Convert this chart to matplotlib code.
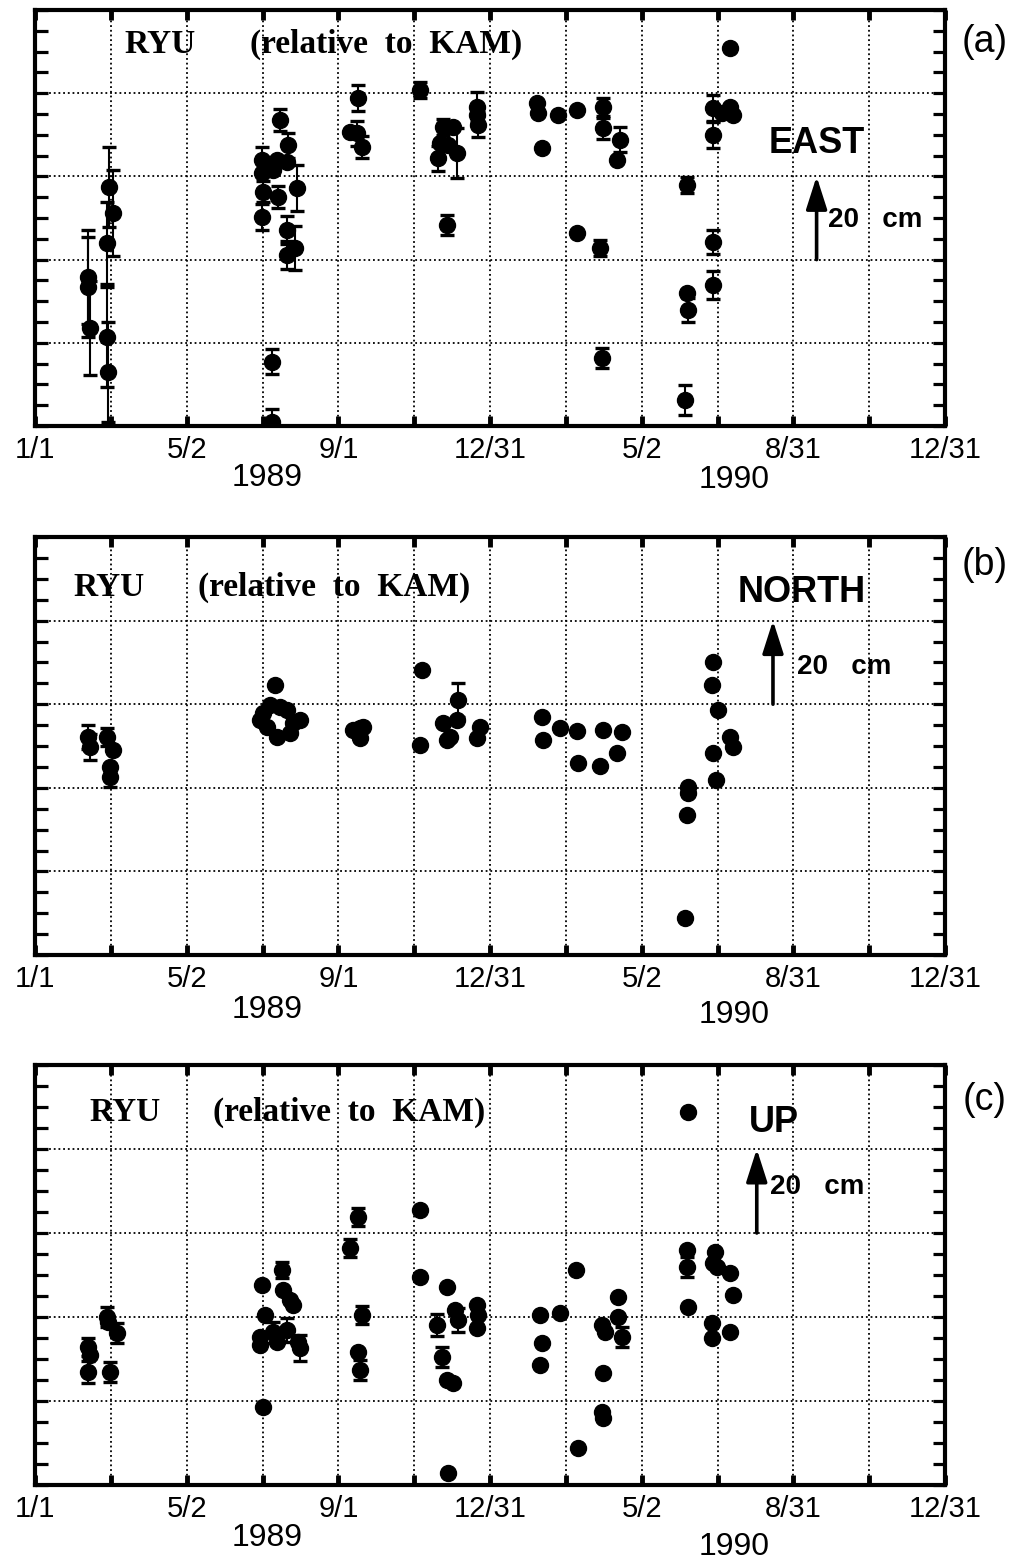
import numpy as np
import matplotlib.pyplot as plt
from matplotlib.ticker import MultipleLocator, FixedLocator

# x = days since 1989-01-01, y = displacement in cm (arbitrary origin), err = 1 sigma in cm
east_day = [42.5, 42.5, 44.1, 57.8, 57.8, 58.6, 59.4, 62.6,
            182.1, 182.1, 182.9, 182.1, 196.5, 203.0, 202.2, 194.9, 210.2, 202.2, 208.6, 202.2, 194.1, 190.9, 190.1, 190.1,
            259.1, 252.7, 258.3, 262.3, 308.8,
            327.3, 324.9, 323.3, 335.3, 338.5, 330.5, 331.3,
            354.6, 355.4, 354.6,
            402.7, 403.5, 406.7, 419.5, 434.8, 434.8, 453.2, 455.7, 455.7, 469.3, 466.9, 454.9,
            523.0, 523.0, 523.8, 521.4,
            543.9, 543.9, 543.9, 543.9, 557.5, 557.5, 559.9, 551.1]
east_cm = [35.8, 33.4, 23.6, 44.0, 21.4, 13.0, 57.5, 51.2,
           63.9, 60.8, 56.3, 50.2, 73.6, 67.5, 63.5, 55.0, 57.2, 47.1, 42.8, 41.1, 63.9, 61.5, 15.4, 1.0,
           78.8, 70.7, 70.4, 67.1, 80.8,
           71.9, 68.0, 64.4, 71.9, 65.6, 48.3, 67.5,
           76.7, 72.4, 74.8,
           77.6, 75.2, 66.8, 74.8, 76.0, 46.4, 42.8, 76.7, 71.6, 68.8, 63.9, 16.3,
           57.9, 32.0, 27.9, 6.3,
           76.4, 70.0, 44.2, 33.9, 90.9, 76.7, 74.8, 75.2]
east_err = [11.3, 12.0, 11.3, 9.9, 12.0, 12.0, 9.6, 10.3,
            3.1, 0, 2.5, 3.1, 2.6, 3.0, 0, 2.6, 5.5, 3.4, 5.3, 3.4, 0, 0, 3.0, 3.0,
            3.1, 0, 3.0, 2.6, 2.0,
            2.0, 0, 3.0, 0, 6.0, 2.5, 0,
            3.6, 3.0, 0,
            0, 0, 0, 0, 0, 0, 2.0, 2.2, 2.5, 3.0, 0, 2.4,
            2.0, 0, 2.9, 3.6,
            3.1, 3.1, 2.9, 3.4, 0, 0, 0, 0]

north_day = [42.5, 44.1, 57.8, 62.6, 60.2, 60.2,
             192.5, 182.9, 180.5, 186.1, 194.1, 202.2, 207.0, 212.6, 204.6, 196.5, 188.5,
             255.1, 260.7, 260.7, 263.1, 310.4, 308.8,
             327.3, 332.9, 330.5, 338.5, 339.3, 357.0, 354.6,
             406.7, 407.5, 421.2, 434.8, 435.6, 453.2, 455.7, 470.9, 466.9,
             523.8, 523.8, 523.0, 521.4,
             543.9, 543.1, 547.9, 543.9, 546.3, 557.5, 559.9]
north_cm = [52.2, 49.8, 52.2, 49.0, 45.0, 42.6,
            64.6, 57.9, 56.2, 54.5, 52.2, 58.6, 55.5, 56.2, 53.1, 59.3, 59.8,
            53.8, 54.3, 51.9, 54.5, 68.2, 50.2,
            55.5, 52.2, 51.4, 56.2, 61.0, 54.5, 51.9,
            56.9, 51.4, 54.3, 53.6, 45.9, 45.2, 53.8, 53.3, 48.3,
            40.2, 38.8, 33.5, 8.9,
            70.1, 64.6, 58.6, 48.3, 41.9, 52.2, 49.8]
north_err = [2.9, 3.1, 2.2, 0, 0, 2.4,
             0, 0, 0, 0, 0, 0, 0, 0, 0, 0, 0,
             0, 0, 0, 0, 0, 0,
             0, 0, 0, 0, 4.1, 0, 0,
             0, 0, 0, 0, 0, 0, 0, 0, 0,
             0, 0, 0, 0,
             0, 0, 0, 0, 0, 0, 0]

up_day = [42.5, 44.1, 42.5, 57.8, 58.6, 65.8, 60.2,
          182.1, 184.5, 180.5, 180.5, 190.9, 194.1, 198.1, 198.9, 204.6, 207.0, 202.2, 211.0, 212.6, 182.9,
          252.7, 259.1, 262.3, 259.1, 260.7, 308.8, 308.8,
          330.5, 322.5, 326.5, 330.5, 335.3, 331.3, 336.9, 339.3,
          354.6, 355.4, 354.6,
          405.1, 406.7, 405.1, 421.2, 434.0, 435.6,
          454.9, 457.3, 455.7, 454.9, 455.7, 467.7, 467.7, 470.9,
          523.8, 523.0, 523.0, 523.8,
          545.5, 543.9, 547.1, 543.1, 543.1, 557.5, 559.9, 557.5]
up_cm = [32.9, 31.0, 26.9, 40.0, 38.8, 36.2, 26.9,
         47.6, 40.5, 35.2, 33.3, 36.4, 34.0, 51.2, 46.4, 44.0, 42.9, 36.9, 34.0, 32.6, 18.6,
         56.4, 63.8, 40.5, 31.7, 27.4, 65.5, 49.5,
         47.1, 38.1, 30.5, 25.0, 24.3, 2.9, 41.7, 39.3,
         42.9, 40.5, 37.4,
         40.5, 33.8, 28.6, 41.0, 51.2, 8.8,
         38.1, 36.4, 26.7, 17.4, 16.0, 44.8, 40.0, 35.2,
         88.8, 56.0, 51.9, 42.4,
         55.5, 52.9, 51.9, 38.6, 35.0, 50.5, 45.2, 36.4]
up_err = [2.1, 0, 2.6, 2.4, 0, 2.4, 2.4,
          0, 0, 0, 0, 2.5, 0, 2.0, 0, 0, 0, 2.8, 0, 3.0, 0,
          2.2, 2.2, 2.2, 0, 2.4, 0, 0,
          0, 2.6, 2.4, 0, 0, 0, 0, 2.9,
          0, 0, 0,
          0, 0, 0, 0, 0, 0,
          0, 0, 0, 0, 0, 0, 0, 2.4,
          0, 0, 2.4, 0,
          0, 0, 0, 0, 0, 0, 0, 0]

x_tick_labels = ["1/1", "", "5/2", "", "9/1", "", "12/31", "", "5/2", "", "8/31", "", "12/31"]
years = ["1989", "1990"]

plt.rcParams['font.family'] = ['Liberation Sans', 'DejaVu Sans']

fig = plt.figure(figsize=(10.36, 15.62), dpi=100)
W, H = 1036, 1562


def panel(top_px, bottom_px, day, val, err, comp, comp_xy, cm_xy, arrow_day,
          arrow_y, ryu_xy, rel_x, tag, tag_y, year_off):
    ax = fig.add_axes([35 / W, 1 - bottom_px / H, 910 / W, (bottom_px - top_px) / H])
    ax.set_xlim(0, 730)
    ax.set_ylim(0, 100)

    day = np.array(day)
    val = np.array(val)
    err = np.array(err)
    m = err > 0
    ax.errorbar(day[m], val[m], yerr=err[m], fmt='none', ecolor='k',
                elinewidth=1.5, capsize=5, capthick=2.4, zorder=3)
    ax.plot(day, val, 'o', color='k', ms=11.5, zorder=4)

    ax.xaxis.set_major_locator(FixedLocator(np.linspace(0, 730, 13)))
    ax.set_xticklabels(x_tick_labels)
    ax.yaxis.set_major_locator(MultipleLocator(20))
    ax.yaxis.set_minor_locator(MultipleLocator(5))
    ax.set_yticklabels([])
    ax.tick_params(axis='x', which='major', direction='in', top=True, bottom=True,
                   length=7, width=3.5, labelsize=21, pad=7)
    ax.tick_params(axis='y', which='both', direction='in', left=True, right=True,
                   length=9, width=2.3)
    ax.grid(True, which='major', color='k', linestyle=(0, (1, 1.6)), linewidth=1.3)
    for s in ax.spines.values():
        s.set_linewidth(3)

    for yr, xd, off in zip(years, [186, 561], year_off):
        ax.annotate(yr, xy=(xd, 0), xycoords=('data', 'axes fraction'),
                    xytext=(0, -off * 0.72), textcoords='offset points',
                    ha='center', va='center', fontsize=23)

    ax.text(ryu_xy[0], ryu_xy[1], "RYU", family='Liberation Serif', weight='bold',
            fontsize=24, va='center', ha='left')
    ax.text(rel_x, ryu_xy[1], "(relative  to  KAM)", family='Liberation Serif',
            weight='bold', fontsize=24, va='center', ha='left')

    ax.text(comp_xy[0], comp_xy[1], comp, weight='bold', fontsize=26,
            ha='center', va='center')
    ax.text(cm_xy[0], cm_xy[1], "20   cm", weight='bold', fontsize=20,
            ha='left', va='center')
    ax.annotate('', xy=(arrow_day, arrow_y[1]), xytext=(arrow_day, arrow_y[0]),
                arrowprops=dict(arrowstyle='-|>,head_length=1.0,head_width=0.32',
                                lw=2.6, color='k', mutation_scale=20,
                                shrinkA=0, shrinkB=0))

    fig.text(985 / W, 1 - tag_y / H, tag, fontsize=27, ha='center', va='center')
    return ax


panel(10, 426, east_day, east_cm, east_err, "EAST", (627, 68), (636, 49.5), 627,
      (40, 60), (72, 91.8), 172.5, "(a)", 42, (52, 54))
panel(537, 955, north_day, north_cm, north_err, "NORTH", (615, 86.8), (611, 68.9), 592,
      (60, 80), (30.5, 88), 131, "(b)", 565, (55, 60))
panel(1065, 1485, up_day, up_cm, up_err, "UP", (593, 86.4), (590, 71), 579,
      (60, 80), (44, 88.8), 143, "(c)", 1100, (53, 62))

fig.savefig("out.png", dpi=100)
